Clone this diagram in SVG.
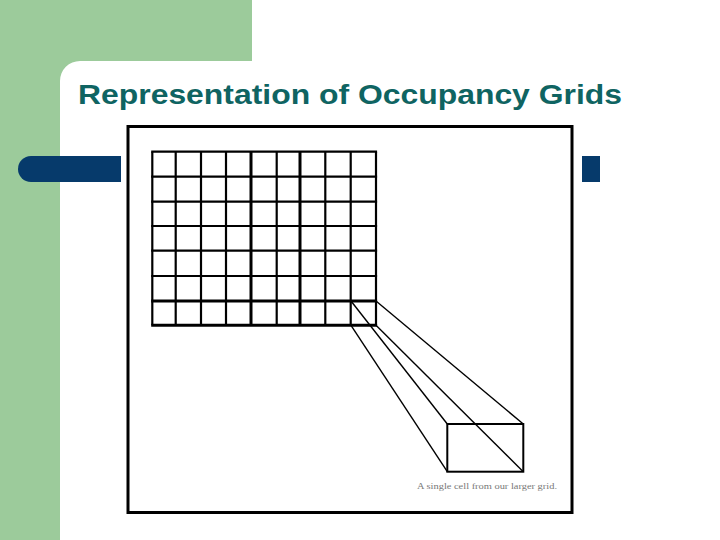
<svg xmlns="http://www.w3.org/2000/svg" width="720" height="540" viewBox="0 0 720 540">
<style>
.grid line{stroke:#000;stroke-width:2.2}
.thick{stroke-width:3 !important}
.proj{stroke:#000;stroke-width:1.4;fill:none}
</style>
<rect width="720" height="540" fill="#fff"/>
<g id="background">
<rect x="0" y="0" width="252" height="61" fill="#9ccb9b"/>
<rect x="0" y="0" width="60" height="540" fill="#9ccb9b"/>
<path d="M60 61 H80 A20 20 0 0 0 60 81 Z" fill="#9ccb9b"/>
<rect x="18" y="156" width="582" height="26" rx="13" fill="#063a6b"/>
<rect x="586" y="156" width="14" height="26" fill="#063a6b"/>
</g>
<g id="title">
<text x="78" y="104" font-family="Liberation Sans, Arial, sans-serif" font-weight="bold" font-size="28" fill="#0f6462" textLength="544" lengthAdjust="spacingAndGlyphs">Representation of Occupancy Grids</text>
</g>
<g id="picture">
<rect x="121" y="121" width="461" height="398" fill="#fff"/>
<rect x="128" y="126.5" width="444" height="386" fill="none" stroke="#000" stroke-width="3"/>
</g>
<g id="grid" class="grid">
<line x1="152.3" y1="151.7" x2="152.3" y2="325.3"/>
<line x1="175.7" y1="151.7" x2="175.7" y2="325.3"/>
<line x1="201" y1="151.7" x2="201" y2="325.3"/>
<line x1="226" y1="151.7" x2="226" y2="325.3"/>
<line class="thick" x1="251" y1="151.7" x2="251" y2="325.3"/>
<line x1="276.7" y1="151.7" x2="276.7" y2="325.3"/>
<line class="thick" x1="300" y1="151.7" x2="300" y2="325.3"/>
<line x1="325.3" y1="151.7" x2="325.3" y2="325.3"/>
<line x1="350.7" y1="151.7" x2="350.7" y2="325.3"/>
<line x1="376" y1="151.7" x2="376" y2="325.3"/>
<line x1="151.2" y1="151.7" x2="377.1" y2="151.7"/>
<line x1="151.2" y1="176.7" x2="377.1" y2="176.7"/>
<line x1="151.2" y1="201.7" x2="377.1" y2="201.7"/>
<line x1="151.2" y1="226" x2="377.1" y2="226"/>
<line x1="151.2" y1="250.7" x2="377.1" y2="250.7"/>
<line x1="151.2" y1="276" x2="377.1" y2="276"/>
<line class="thick" x1="151.2" y1="301" x2="377.1" y2="301"/>
<line class="thick" x1="151.2" y1="325.3" x2="377.1" y2="325.3"/>
</g>
<g id="cell-zoom">
<rect x="447.3" y="424" width="76" height="47.7" fill="none" stroke="#000" stroke-width="2"/>
</g>
<g id="connectors" class="proj">
<line x1="351" y1="301" x2="447.3" y2="424"/>
<line x1="376" y1="301" x2="523.3" y2="424"/>
<line x1="351" y1="325.3" x2="447.3" y2="471.7"/>
<line x1="376" y1="325.3" x2="523.3" y2="471.7"/>
</g>
<g id="caption">
<text x="417" y="488.5" font-family="Liberation Serif, Times New Roman, serif" font-size="7.5" fill="#777" textLength="140" lengthAdjust="spacingAndGlyphs">A single cell from our larger grid.</text>
</g>
</svg>
